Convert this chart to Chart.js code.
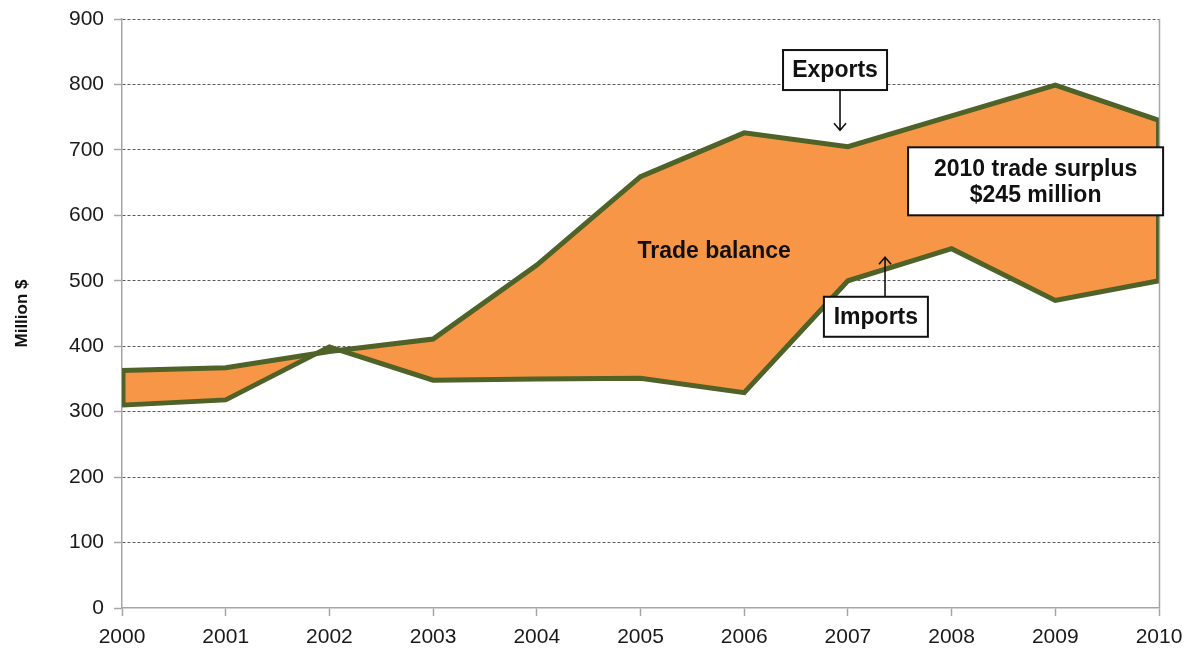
<!DOCTYPE html>
<html>
<head>
<meta charset="utf-8">
<script src="https://cdn.jsdelivr.net/npm/chart.js@4"></script>
<style>
  html, body { margin: 0; padding: 0; background: #fff; }
  #wrap { width: 1198px; height: 652px; }
</style>
</head>
<body>
<div id="wrap"><canvas id="c" width="1198" height="652"></canvas></div>
<script>
// Annual trade, million dollars
const years = ['2000', '2001', '2002', '2003', '2004', '2005', '2006', '2007', '2008', '2009', '2010'];
const exportsM = [363, 367, 392, 411, 524, 659, 726, 705, 752, 799, 745];
const importsM = [310, 318, 399, 348, 350, 351, 329, 500, 549, 470, 500];
const yTickStep = 100;
const yMax = 900;

const FONT = '"Liberation Sans", Arial, sans-serif';
const LINE = '#4F6228';
const FILL = '#F79646';
const AXIS = '#a6a6a6';

// Callouts, placed in data coordinates (x = year index, y = million $)
const callouts = [
  { lines: ['Exports'], x: 6.876, y: 822, w: 104, h: 40, arrowX: 6.924, arrowTo: 730 },
  { lines: ['Imports'], x: 7.27, y: 445, w: 104, h: 40, arrowX: 7.358, arrowTo: 536 },
  { lines: ['2010 trade surplus', '$245 million'], x: 8.81, y: 652, w: 255, h: 68 }
];
const areaLabel = { text: 'Trade balance', x: 5.71, y: 544 };

// Closes the shaded band with short edges at the first and last year
const bandEdges = {
  id: 'bandEdges',
  afterDatasetsDraw(chart) {
    const { ctx, scales: { x, y }, chartArea: ca } = chart;
    const last = years.length - 1;
    ctx.save();
    ctx.beginPath();
    ctx.rect(ca.left, ca.top, ca.right - ca.left, ca.bottom - ca.top);
    ctx.clip();
    ctx.strokeStyle = LINE;
    ctx.lineCap = 'butt';
    ctx.lineWidth = 5;
    ctx.beginPath();
    ctx.moveTo(x.getPixelForValue(0) + 1, y.getPixelForValue(exportsM[0]));
    ctx.lineTo(x.getPixelForValue(0) + 1, y.getPixelForValue(importsM[0]));
    ctx.stroke();
    ctx.lineWidth = 4;
    ctx.beginPath();
    ctx.moveTo(x.getPixelForValue(last) - 1, y.getPixelForValue(exportsM[last]));
    ctx.lineTo(x.getPixelForValue(last) - 1, y.getPixelForValue(importsM[last]));
    ctx.stroke();
    ctx.restore();
  }
};

const annotate = {
  id: 'annotate',
  afterDatasetsDraw(chart) {
    const { ctx, scales: { x, y }, chartArea: ca } = chart;
    ctx.save();
    // right frame line at the last year
    ctx.strokeStyle = AXIS;
    ctx.lineWidth = 1.5;
    ctx.beginPath();
    ctx.moveTo(ca.right + 0.5, ca.top);
    ctx.lineTo(ca.right + 0.5, ca.bottom);
    ctx.stroke();

    ctx.font = 'bold 23px ' + FONT;
    ctx.fillStyle = '#111';
    ctx.textAlign = 'center';
    ctx.textBaseline = 'middle';
    ctx.fillText(areaLabel.text, x.getPixelForValue(areaLabel.x), y.getPixelForValue(areaLabel.y));

    callouts.forEach(c => {
      const cx = x.getPixelForValue(c.x);
      const cy = y.getPixelForValue(c.y);
      const left = cx - c.w / 2, top = cy - c.h / 2;
      ctx.fillStyle = '#fff';
      ctx.fillRect(left, top, c.w, c.h);
      ctx.strokeStyle = '#111';
      ctx.lineWidth = 2;
      ctx.strokeRect(left, top, c.w, c.h);
      ctx.fillStyle = '#111';
      const lh = 26;
      c.lines.forEach((t, i) => {
        ctx.fillText(t, cx, cy + (i - (c.lines.length - 1) / 2) * lh + 1);
      });
      if (c.arrowX !== undefined) {
        const ax = x.getPixelForValue(c.arrowX);
        const tip = y.getPixelForValue(c.arrowTo);
        const start = tip > cy ? top + c.h : top;
        const dir = tip > start ? 1 : -1;
        ctx.lineWidth = 1.6;
        ctx.beginPath();
        ctx.moveTo(ax, start);
        ctx.lineTo(ax, tip);
        ctx.moveTo(ax - 6, tip - dir * 7);
        ctx.lineTo(ax, tip);
        ctx.lineTo(ax + 6, tip - dir * 7);
        ctx.stroke();
      }
    });
    ctx.restore();
  }
};

new Chart(document.getElementById('c'), {
  type: 'line',
  data: {
    labels: years,
    datasets: [
      {
        label: 'Exports',
        data: exportsM,
        borderColor: LINE,
        borderWidth: 5,
        pointRadius: 0,
        tension: 0,
        borderJoinStyle: 'miter',
        fill: { target: 1, above: FILL, below: FILL }
      },
      {
        label: 'Imports',
        data: importsM,
        borderColor: LINE,
        borderWidth: 5,
        pointRadius: 0,
        tension: 0,
        borderJoinStyle: 'miter',
        fill: false
      }
    ]
  },
  options: {
    responsive: false,
    animation: false,
    layout: { padding: { left: 12, right: 39, top: 19, bottom: 0 } },
    plugins: {
      legend: { display: false },
      tooltip: { enabled: false },
      filler: { drawTime: 'beforeDatasetsDraw' }
    },
    scales: {
      x: {
        offset: false,
        grid: { drawOnChartArea: false, drawTicks: true, tickLength: 8, tickColor: AXIS, tickWidth: 1.5 },
        border: { color: AXIS, width: 1.5 },
        ticks: { font: { family: FONT, size: 21 }, color: '#1a1a1a', padding: 9, maxRotation: 0, autoSkip: false },
        afterFit(s) { s.height = 44; }
      },
      y: {
        min: 0,
        max: yMax,
        ticks: { stepSize: yTickStep, font: { family: FONT, size: 21 }, color: '#1a1a1a', padding: 10 },
        grid: {
          color: c => (c.tick && c.tick.value === 0 ? 'rgba(0,0,0,0)' : '#5a5a5a'),
          lineWidth: 1,
          tickColor: AXIS,
          tickLength: 8,
          tickWidth: 1.5,
          tickBorderDash: []
        },
        border: { dash: [3, 2], color: AXIS, width: 1.5 },
        title: { display: true, text: 'Million $', font: { family: FONT, size: 17, weight: 'bold' }, color: '#111', padding: { top: 0, bottom: 4 } },
        afterFit(s) { s.width = 110; s.paddingTop = 0; s.paddingBottom = 0; }
      }
    }
  },
  plugins: [bandEdges, annotate]
});
</script>
</body>
</html>
